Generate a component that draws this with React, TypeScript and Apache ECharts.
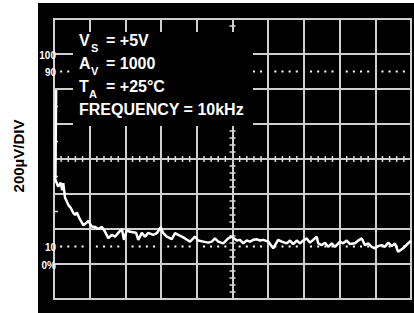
import React, { useEffect, useRef } from "react";
import * as echarts from "echarts";

// Trace: x in horizontal divisions (0-10), y in vertical divisions (0-8)
const traceX = [0.06, 0.04, 0.12, 0.19, 0.23, 0.26, 0.31, 0.40, 0.47, 0.54, 0.59, 0.64, 0.71, 0.82, 0.90, 0.96,
  1.06, 1.15, 1.24, 1.34, 1.43, 1.52, 1.62, 1.71, 1.80, 1.90, 1.96, 2.04, 2.13, 2.30, 2.36, 2.46, 2.55, 2.64,
  2.78, 2.88, 2.99, 3.06, 3.16, 3.30, 3.39, 3.48, 3.58, 3.67, 3.81, 3.95, 4.04, 4.18, 4.32, 4.42, 4.51, 4.60,
  4.74, 4.88, 4.98, 5.12, 5.21, 5.30, 5.40, 5.49, 5.58, 5.68, 5.77, 5.86, 6.00, 6.14, 6.28, 6.38, 6.52, 6.61,
  6.70, 6.80, 6.89, 6.98, 7.08, 7.17, 7.26, 7.36, 7.40, 7.50, 7.59, 7.68, 7.78, 7.87, 8.01, 8.10, 8.20, 8.29,
  8.43, 8.52, 8.62, 8.71, 8.80, 8.90, 8.99, 9.08, 9.18, 9.27, 9.36, 9.46, 9.55, 9.64, 9.78, 9.92, 10.0];
const traceY = [5.97, 3.40, 3.21, 3.32, 3.11, 3.31, 2.89, 2.69, 2.60, 2.46, 2.40, 2.47, 2.31, 2.11, 2.17, 2.23,
  2.07, 2.06, 2.00, 2.06, 1.92, 1.74, 1.83, 1.78, 1.89, 2.00, 1.69, 1.97, 1.92, 1.89, 1.69, 1.89, 1.78, 1.89,
  1.83, 1.88, 2.05, 1.88, 1.78, 1.71, 1.88, 1.83, 1.78, 1.73, 1.64, 1.78, 1.67, 1.64, 1.61, 1.64, 1.73, 1.64,
  1.59, 1.73, 1.78, 1.67, 1.69, 1.59, 1.67, 1.64, 1.69, 1.71, 1.67, 1.69, 1.64, 1.45, 1.69, 1.64, 1.59, 1.67,
  1.57, 1.67, 1.59, 1.67, 1.73, 1.61, 1.69, 1.78, 1.59, 1.54, 1.61, 1.49, 1.59, 1.49, 1.64, 1.59, 1.67, 1.57,
  1.59, 1.67, 1.73, 1.54, 1.59, 1.49, 1.45, 1.51, 1.54, 1.49, 1.61, 1.51, 1.59, 1.35, 1.45, 1.59, 1.67];

// Reference levels (in divisions) with their labels
const levelLabels = ["100", "90", "10", "0%"];
const levelValues = [7, 6.5, 1.5, 1];
const dottedLevels = [6.5, 1.5];
const edgeTickLevels = [2.5, 3.5, 4.5, 5.5];

const X_DIVS = 10;
const Y_DIVS = 8;

export default function App() {
  const ref = useRef<HTMLDivElement>(null);
  useEffect(() => {
    if (!ref.current) return;
    const chart = echarts.init(ref.current, undefined, { renderer: "svg" });
    const trace = traceX.map((x, i) => [x, traceY[i]]);
    const tickColor = "#dcdcdc";
    const renderDeco = (params: any, api: any) => {
      const children: any[] = [];
      const cx = X_DIVS / 2;
      const cy = Y_DIVS / 2;
      for (let k = 1; k < Y_DIVS * 5; k++) {
        if (k % 5 === 0) continue;
        const p = api.coord([cx, k * 0.2]);
        children.push({ type: "line", shape: { x1: p[0] - 3, y1: p[1], x2: p[0] + 3, y2: p[1] }, style: { stroke: tickColor, lineWidth: 1.5 } });
      }
      for (let k = 1; k < X_DIVS * 5; k++) {
        if (k % 5 === 0) continue;
        const p = api.coord([k * 0.2, cy]);
        children.push({ type: "line", shape: { x1: p[0], y1: p[1] - 3, x2: p[0], y2: p[1] + 3 }, style: { stroke: tickColor, lineWidth: 1.5 } });
      }
      edgeTickLevels.forEach((lv) => {
        const p = api.coord([0, lv]);
        children.push({ type: "line", shape: { x1: p[0], y1: p[1], x2: p[0] + 4, y2: p[1] }, style: { stroke: tickColor, lineWidth: 1.5 } });
      });
      dottedLevels.forEach((lv) => {
        for (let k = 1; k < X_DIVS * 5; k++) {
          if (k % 5 === 0) continue;
          const p = api.coord([k * 0.2, lv]);
          children.push({ type: "rect", shape: { x: p[0] - 1, y: p[1] - 1, width: 2, height: 2 }, style: { fill: "#ffffff" } });
        }
      });
      levelLabels.forEach((lab, i) => {
        const p = api.coord([0, levelValues[i]]);
        children.push({
          type: "text",
          x: p[0] + 2,
          y: p[1] + 1,
          style: { text: lab, fill: "#ffffff", font: "bold 10px 'Liberation Sans', Arial, sans-serif", align: "right", verticalAlign: "middle" },
        });
      });
      return { type: "group", children };
    };

    const font16 = "bold 16px 'Liberation Sans', Arial, sans-serif";
    const font11 = "bold 11px 'Liberation Sans', Arial, sans-serif";
    const t = (text: string, x: number, y: number, font: string) => ({
      type: "text", x, y, z: 101,
      style: { text, fill: "#ffffff", font, align: "left", verticalAlign: "middle" },
    });

    chart.setOption({
      animation: false,
      grid: { left: 54, top: 19, width: 357, height: 280, show: true, borderColor: "#d4d4d4", borderWidth: 2, backgroundColor: "transparent", containLabel: false },
      xAxis: {
        type: "value", min: 0, max: X_DIVS, interval: 1,
        axisLine: { show: false }, axisTick: { show: false }, axisLabel: { show: false },
        splitLine: { show: true, lineStyle: { color: "#cfcfcf", width: 2 } },
      },
      yAxis: {
        type: "value", min: 0, max: Y_DIVS, interval: 1,
        axisLine: { show: false }, axisTick: { show: false }, axisLabel: { show: false },
        splitLine: { show: true, lineStyle: { color: "#cfcfcf", width: 2 } },
      },
      series: [
        { type: "custom", renderItem: renderDeco, data: [[0, 0]], clip: false, z: 3, silent: true },
        { type: "line", data: trace, showSymbol: false, symbol: "none", lineStyle: { color: "#ffffff", width: 2.5 }, z: 5, silent: true },
      ],
      graphic: [
        { type: "rect", shape: { x: 73, y: 32, width: 180, height: 94 }, style: { fill: "#000000" }, z: 100 },
        t("V", 79, 40, font16), t("S", 91, 48, font11), t("= +5V", 106, 40, font16),
        t("A", 79, 63, font16), t("V", 91, 71, font11), t("= 1000", 106, 63, font16),
        t("T", 79, 86, font16), t("A", 89, 94, font11), t("= +25°C", 106, 86, font16),
        t("FREQUENCY = 10kHz", 79, 109, font16),
        {
          type: "text", x: 18, y: 156, rotation: Math.PI / 2, z: 101,
          style: { text: "200µV/DIV", fill: "#000000", font: "bold 15px 'Liberation Sans', Arial, sans-serif", align: "center", verticalAlign: "middle" },
        },
      ],
    });
    return () => chart.dispose();
  }, []);

  return (
    <div style={{ position: "fixed", left: 0, top: 0, width: 414, height: 313, background: "#ffffff" }}>
      <div style={{ position: "absolute", left: 38, top: 3, width: 376, height: 310, background: "#000000" }} />
      <div ref={ref} style={{ position: "absolute", left: 0, top: 0, width: 414, height: 313 }} />
    </div>
  );
}
